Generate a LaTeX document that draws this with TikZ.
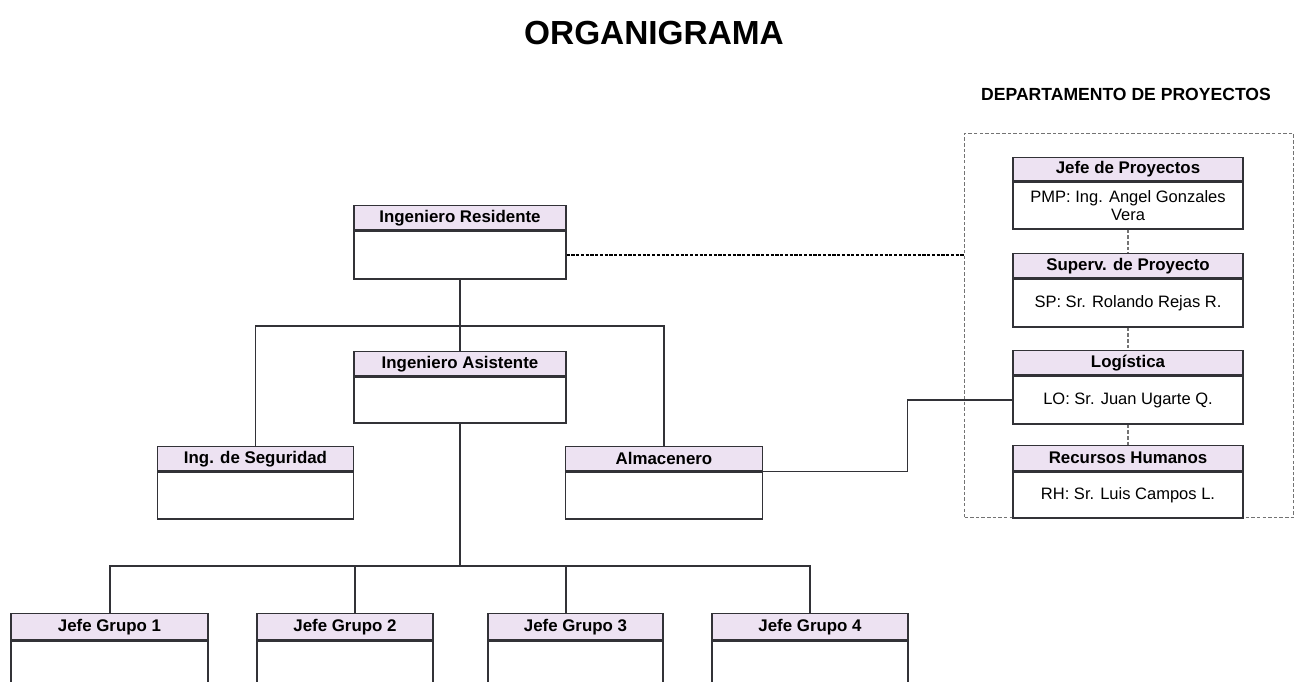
\documentclass[tikz,border=0pt]{standalone}
\usepackage{fontspec}
\setmainfont{Liberation Sans}
\usetikzlibrary{calc}

\definecolor{hdrfill}{RGB}{237,226,242}
\definecolor{boxline}{RGB}{50,50,55}
\definecolor{deptgray}{RGB}{115,115,115}

\begin{document}
\begin{tikzpicture}[x=0.02cm, y=-0.02cm,
  hdr/.style={draw=boxline, line width=0.8pt, fill=hdrfill, anchor=north,
    minimum height=0.48cm, inner sep=0pt, font=\fontsize{9.6}{11}\selectfont\bfseries},
  body/.style={draw=boxline, line width=0.8pt, fill=white, anchor=north,
    minimum height=0.96cm, inner sep=0pt, align=center, font=\fontsize{9.4}{10.6}\selectfont},
  link/.style={draw=boxline, line width=0.8pt},
  deplink/.style={draw=deptgray, line width=0.6pt, dash pattern=on 2pt off 1.2pt}]

  % Page frame
  \useasboundingbox (0,0) rectangle (1301,681);
  \clip (0,0) rectangle (1301,681);

  % Title
  \node (title) at (654,33) {\fontsize{19}{22}\selectfont\bfseries ORGANIGRAMA};

  % 1. obra: residente, asistente, seguridad, almacen
  \node[hdr, minimum width=4.24cm] (res) at (460,205) {Ingeniero Residente};
  \node[body, minimum width=4.24cm] (resb) at (res.south) {};

  \node[hdr, minimum width=4.24cm] (asi) at (460,351) {Ingeniero Asistente};
  \node[body, minimum width=4.24cm, minimum height=0.92cm] (asib) at (asi.south) {};

  \node[hdr, minimum width=3.93cm] (seg) at (255.5,446) {Ing. de Seguridad};
  \node[body, minimum width=3.93cm, minimum height=0.94cm] (segb) at (seg.south) {};

  \node[hdr, minimum width=3.93cm] (alm) at (664,446) {Almacenero};
  \node[body, minimum width=3.93cm, minimum height=0.94cm] (almb) at (alm.south) {};

  % 2. jefes de grupo (cut at the bottom)
  \coordinate (br1) at (460,326);
  \coordinate (br2) at (460,566);
  \foreach \n/\cx/\w/\lx in {1/109.5/3.94/110, 2/345/3.52/355, 3/575.5/3.5/566, 4/810/3.92/810} {
    \node[hdr, minimum width=\w cm, minimum height=0.52cm] (j\n) at (\cx,613) {Jefe Grupo \n};
    \node[body, minimum width=\w cm, minimum height=1.4cm] (jb\n) at (j\n.south) {};
    \draw[link] ($(j\n.north)+(\lx-\cx,0)$) |- (br2);
  }

  % 3. departamento de proyectos
  \node[draw=deptgray, line width=0.6pt, dash pattern=on 2pt off 1.2pt,
    minimum width=6.58cm, minimum height=7.68cm, anchor=north west] (dep) at (964,133) {};
  \node[font=\fontsize{10}{12}\selectfont\bfseries] (deptitle) at (1126,94) {DEPARTAMENTO DE PROYECTOS};

  \node[hdr, minimum width=4.6cm, minimum height=0.46cm] (jp) at (1128,157) {Jefe de Proyectos};
  \node[body, minimum width=4.6cm, minimum height=0.94cm] (jpb) at (jp.south) {PMP: Ing. Angel Gonzales\\Vera};

  \node[hdr, minimum width=4.6cm] (sup) at (1128,253) {Superv. de Proyecto};
  \node[body, minimum width=4.6cm] (supb) at (sup.south) {SP: Sr. Rolando Rejas R.};

  \node[hdr, minimum width=4.6cm] (log) at (1128,350) {Logística};
  \node[body, minimum width=4.6cm] (logb) at (log.south) {LO: Sr. Juan Ugarte Q.};

  \node[hdr, minimum width=4.6cm, minimum height=0.5cm] (rh) at (1128,445) {Recursos Humanos};
  \node[body, minimum width=4.6cm, minimum height=0.92cm] (rhb) at (rh.south) {RH: Sr. Luis Campos L.};

  % Connectors
  \draw[link] (resb.south) -- (asi.north);
  \draw[link] (seg.north) |- (br1) -| (alm.north);
  \draw[link] (asib.south) -- (br2);

  \draw[link] (alm.south east) -| ($(logb.west)+(-105,0)$) -- (logb.west);

  \draw[line width=0.9pt, dash pattern=on 1.8pt off 0.9pt] (resb.east) -- (resb.east -| dep.west);

  \draw[deplink] (jpb.south) -- (sup.north);
  \draw[deplink] (supb.south) -- (log.north);
  \draw[deplink] (logb.south) -- (rh.north);

\end{tikzpicture}
\end{document}
